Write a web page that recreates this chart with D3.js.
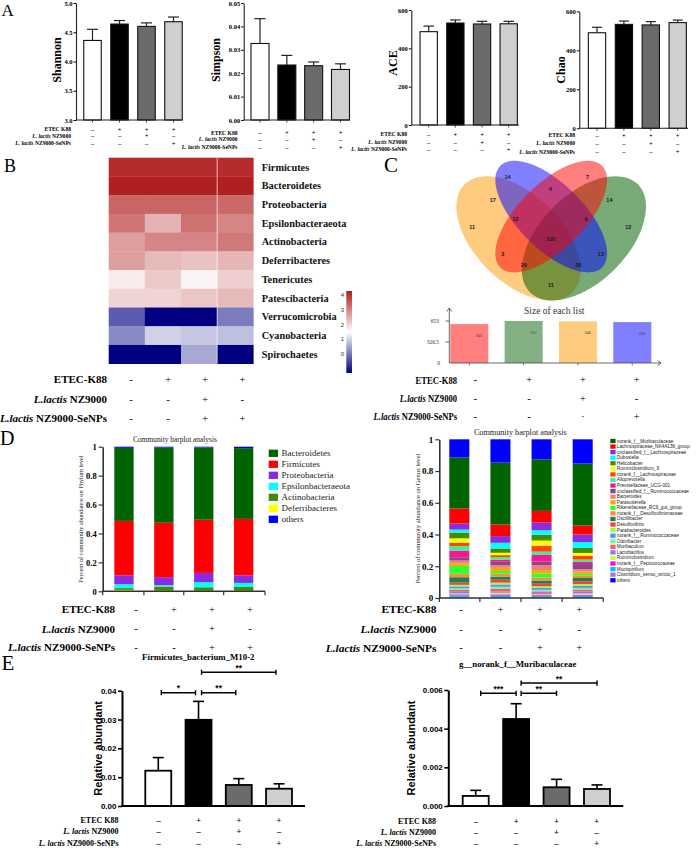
<!DOCTYPE html>
<html><head><meta charset="utf-8">
<script src="https://cdn.jsdelivr.net/npm/d3@7"></script>
<style>body{margin:0;background:#fff}svg{display:block}</style>
</head><body>
<svg id="fig" width="696" height="851"></svg>
<script>
const SERIF="'Liberation Serif','Times New Roman',serif";
const SANS="'Liberation Sans',Arial,sans-serif";

// ================= DATA =================
const groups=["Control","ETEC","ETEC_NZ9000","ETEC_NZ9000_SeNPs"];

// Panel A: alpha diversity (mean, upper end of error bar)
const shannonMean=[4.36,4.64,4.60,4.68];
const shannonUpper=[4.55,4.70,4.66,4.76];
const simpsonMean=[0.0327,0.0235,0.0232,0.0216];
const simpsonUpper=[0.0433,0.0276,0.0248,0.0240];
const aceMean=[487,532,527,528];
const aceUpper=[516,548,541,541];
const chaoMean=[490,533,530,542];
const chaoUpper=[518,550,547,555];
const shannonTicks=[3.0,3.5,4.0,4.5,5.0];
const simpsonTicks=[0,0.01,0.02,0.03,0.04,0.05];
const aceTicks=[0,200,400,600];
const chaoTicks=[0,200,400,600];

// treatment rows
const labelsAE=[["","ETEC K88"],["L. lactis"," NZ9000"],["L. lactis"," NZ9000-SeNPs"]];
const signsAE=[["–","+","+","+"],["–","–","+","–"],["–","–","–","+"]];
const labelsBCD=[["","ETEC-K88"],["L.lactis"," NZ9000"],["L.lactis"," NZ9000-SeNPs"]];
const signsBD=[["-","+","+","+"],["-","-","+","-"],["-","-","+","+"]];
const signsC=[["-","+","+","+"],["-","-","+","-"],["-","-","·","+"]];

// Panel B: heatmap
const phyla=["Firmicutes","Bacteroidetes","Proteobacteria","Epsilonbacteraeota","Actinobacteria","Deferribacteres","Tenericutes","Patescibacteria","Verrucomicrobia","Cyanobacteria","Spirochaetes"];
const heatValues=[
 [4.10,4.10,4.10,4.10],
 [4.25,4.25,4.25,4.25],
 [3.40,3.40,3.40,3.35],
 [3.20,2.45,3.25,3.00],
 [2.70,3.00,3.00,3.15],
 [2.70,2.35,2.25,2.40],
 [1.74,2.15,1.63,2.10],
 [2.03,2.03,2.20,2.35],
 [-0.29,-1.30,-1.30,0.05],
 [0.20,0.99,0.88,0.80],
 [-1.30,-1.30,0.55,-1.30]
];
const colorbarTicks=[0,1,2,3,4];

// Panel C: Venn
const vennCounts=[14,7,4,17,14,11,12,9,12,531,3,13,29,38,11];
const setSizes=[605,653,648,636];
const setTicks=[0,326.5,653];

// Panel D: phylum composition
const phylumNames=["Bacteroidetes","Firmicutes","Proteobacteria","Epsilonbacteraeota","Actinobacteria","Deferribacteres","others"];
const phylumValues=[
 [0.505,0.520,0.500,0.489],
 [0.376,0.376,0.368,0.390],
 [0.062,0.055,0.064,0.053],
 [0.027,0.010,0.035,0.028],
 [0.012,0.028,0.024,0.026],
 [0.010,0.005,0.004,0.004],
 [0.008,0.006,0.005,0.010]
];
const genusNames=["norank_f__Muribaculaceae","Lachnospiraceae_NK4A136_group","unclassified_f__Lachnospiraceae","Dubosiella","Helicobacter","Ruminiclostridium_9","norank_f__Lachnospiraceae","Alloprevotella","Prevotellaceae_UCG-001","unclassified_f__Ruminococcaceae","Bacteroides","Parasutterella","Rikenellaceae_RC9_gut_group","norank_f__Desulfovibrionaceae","Oscillibacter","Desulfovibrio","Parabacteroides","norank_f__Ruminococcaceae","Odoribacter","Muribaculum","Lactobacillus","Ruminiclostridium","norank_f__Peptococcaceae","Mucispirillum","Clostridium_sensu_stricto_1","others"];
const genusValues=[
 [0.321,0.390,0.325,0.390],
 [0.095,0.073,0.074,0.057],
 [0.038,0.042,0.048,0.048],
 [0.019,0.036,0.029,0.036],
 [0.036,0.027,0.036,0.032],
 [0.027,0.015,0.032,0.017],
 [0.021,0.013,0.038,0.025],
 [0.029,0.017,0.021,0.015],
 [0.042,0.012,0.042,0.013],
 [0.021,0.020,0.021,0.032],
 [0.017,0.018,0.032,0.015],
 [0.017,0.020,0.021,0.015],
 [0.050,0.017,0.027,0.012],
 [0.021,0.018,0.018,0.014],
 [0.034,0.020,0.020,0.020],
 [0.014,0.018,0.016,0.018],
 [0.010,0.012,0.010,0.012],
 [0.012,0.014,0.012,0.012],
 [0.010,0.012,0.010,0.010],
 [0.012,0.018,0.010,0.014],
 [0.010,0.008,0.008,0.012],
 [0.006,0.010,0.006,0.008],
 [0.006,0.008,0.006,0.006],
 [0.010,0.010,0.006,0.008],
 [0.007,0.005,0.006,0.006],
 [0.115,0.147,0.126,0.153]
];
const fracTicks=[0,0.2,0.4,0.6,0.8,1];

// Panel E
const firmMean=[0.01225,0.0299,0.0073,0.0060];
const firmUpper=[0.0168,0.0363,0.0095,0.0077];
const firmTicks=[0,0.01,0.02,0.03,0.04];
const firmSig=[{a:0,b:1,lab:"*",v:0.0393},{a:1,b:2,lab:"**",v:0.0393},{a:1,b:3,lab:"**",v:0.0464}];
const muriMean=[0.00052,0.0045,0.00097,0.00088];
const muriUpper=[0.00081,0.00529,0.00138,0.00109];
const muriTicks=[0,0.002,0.004,0.006];
const muriSig=[{a:0,b:1,lab:"***",v:0.00583},{a:1,b:2,lab:"**",v:0.00583},{a:1,b:3,lab:"**",v:0.00636}];

// ================= STYLES =================
const barFills=["#ffffff","#000000","#6b6b6b","#cfcfcf"];
const phylumColors=["#006400","#ff0000","#8a2be2","#00ffff","#458b00","#ffff00","#0000ff"];
const genusColors=["#006400","#ff0000","#8a2be2","#00ffff","#458b00","#ffff00","#ff4500","#3cf0a0","#ff1493","#8b4789","#f08080","#ffa500","#32ff32","#ff8c3c","#1e8050","#ff3c3c","#9aff32","#5a8cff","#60ffb0","#ff5a5a","#8c78ff","#c8ff3c","#ff00ff","#00c0ff","#a078e0","#0000ff"];
const vennColors=["#ff0000","#0a640a","#ff9800","#0000ff"]; // red, green, orange, blue

const svg=d3.select("#fig");

function txt(g,x,y,s,o={}){
  const t=g.append("text").attr("x",x).attr("y",y).text(s)
   .attr("font-family",o.ff||SERIF).attr("font-size",o.fs||10)
   .attr("font-weight",o.fw||"normal").attr("fill",o.fill||"#000")
   .attr("text-anchor",o.anchor||"start");
  if(o.db) t.attr("dominant-baseline",o.db);
  if(o.rot) t.attr("transform",`rotate(${o.rot},${x},${y})`);
  return t;
}

function signRows(c){
  const g=svg.append("g");
  const x=d3.scalePoint().domain(groups).range(c.xr);
  c.labels.forEach((lab,r)=>{
    const t=g.append("text").attr("text-anchor","end").attr("dominant-baseline","central")
      .attr("font-family",SERIF).attr("font-weight","bold").attr("font-size",c.lfs)
      .attr("transform",`translate(${c.lx},${c.ys[r]}) scale(${c.sx||1},1)`);
    if(lab[0]) t.append("tspan").attr("font-style","italic").text(lab[0]);
    t.append("tspan").text(lab[1]);
    c.signs[r].forEach((s,i)=>{
      txt(g,x(groups[i]),c.ys[r],s,{fs:c.sfs,fw:c.sfw||"normal",anchor:"middle",db:"central"});
    });
  });
}

// ---------- Panel A ----------
function alphaChart(c){
  const g=svg.append("g");
  const x=d3.scalePoint().domain(groups).range(c.centers);
  const y=d3.scaleLinear().domain(c.domain).range(c.yr);
  const y0=y(c.domain[0]);
  g.selectAll("rect.bar").data(c.mean).join("rect")
   .attr("x",(d,i)=>x(groups[i])-c.bw/2).attr("width",c.bw)
   .attr("y",d=>y(d)).attr("height",d=>y0-y(d))
   .attr("fill",(d,i)=>barFills[i]).attr("stroke","#111").attr("stroke-width",1.1);
  c.upper.forEach((u,i)=>{
    const cx=x(groups[i])+c.eoff;
    g.append("line").attr("x1",cx).attr("x2",cx).attr("y1",y(c.mean[i])).attr("y2",y(u)).attr("stroke","#222").attr("stroke-width",1.2);
    g.append("line").attr("x1",cx-c.cap/2).attr("x2",cx+c.cap/2).attr("y1",y(u)).attr("y2",y(u)).attr("stroke","#222").attr("stroke-width",1.2);
  });
  const ax=g.append("g").attr("transform",`translate(${c.ax},0)`)
   .call(d3.axisLeft(y).tickValues(c.ticks).tickSize(2.5).tickPadding(1).tickSizeOuter(0).tickFormat(d3.format(c.fmt)));
  ax.select(".domain").attr("stroke","#222").attr("stroke-width",1.1);
  ax.selectAll("text").attr("font-family",SERIF).attr("font-weight","bold").attr("font-size",6.5);
  g.append("line").attr("x1",c.ax).attr("x2",c.xend).attr("y1",y0).attr("y2",y0).attr("stroke","#222").attr("stroke-width",1.1);
  groups.forEach(gr=>g.append("line").attr("x1",x(gr)).attr("x2",x(gr)).attr("y1",y0).attr("y2",y0+2.5).attr("stroke","#222").attr("stroke-width",0.8));
  txt(g,c.lx,c.ly,c.title,{fs:12,fw:"bold",anchor:"middle",db:"central",rot:-90});
}
alphaChart({centers:[92.5,173.5],bw:17.5,domain:[3,5],yr:[120,3],mean:shannonMean,upper:shannonUpper,ticks:shannonTicks,fmt:".1f",ax:76,xend:182,eoff:0,cap:11,lx:57,ly:60,title:"Shannon"});
alphaChart({centers:[260,340.5],bw:18,domain:[0,0.05],yr:[120,3],mean:simpsonMean,upper:simpsonUpper,ticks:simpsonTicks,fmt:".2f",ax:243.7,xend:350,eoff:0,cap:11,lx:216,ly:60,title:"Simpson"});
alphaChart({centers:[428.7,508.7],bw:17.3,domain:[0,600],yr:[125,10],mean:aceMean,upper:aceUpper,ticks:aceTicks,fmt:"d",ax:411.3,xend:519,eoff:0,cap:10.5,lx:392.7,ly:63,title:"ACE"});
alphaChart({centers:[597,677.7],bw:17.3,domain:[0,600],yr:[128.3,11.3],mean:chaoMean,upper:chaoUpper,ticks:chaoTicks,fmt:"d",ax:579.3,xend:688,eoff:0,cap:10,lx:561,ly:70,title:"Chao"});

signRows({labels:labelsAE,signs:signsAE,xr:[92.5,173.5],lx:71,ys:[129,135.7,143],lfs:5.6,sfs:6.5,sfw:"bold"});
signRows({labels:labelsAE,signs:signsAE,xr:[260,340.5],lx:237.5,ys:[132.7,139.3,147],lfs:5.6,sfs:6.5,sfw:"bold"});
signRows({labels:labelsAE,signs:signsAE,xr:[428.7,508.7],lx:407,ys:[134.3,142,149],lfs:5.6,sfs:6.5,sfw:"bold"});
signRows({labels:labelsAE,signs:signsAE,xr:[597,677.7],lx:575,ys:[135.3,143.3,151.7],lfs:5.6,sfs:6.5,sfw:"bold"});

// ---------- Panel letters ----------
[["A",1.5,16,17],["B",4,171.7,18],["C",384,171.7,21],["D",0,445,20],["E",1.5,670,21]].forEach(d=>txt(svg,d[1],d[2],d[0],{fs:d[3]}));

// ---------- Panel B heatmap ----------
(function(){
  const g=svg.append("g");
  const x=d3.scaleBand().domain(groups).range([108.7,253.3]);
  const y=d3.scaleBand().domain(phyla).range([157.7,363.7]);
  const col=d3.scaleLinear().domain([-1.3,1.5,4.3]).range(["#000080","#ffffff","#b01c1c"]).clamp(true);
  phyla.forEach((p,r)=>groups.forEach((gr,i)=>{
    g.append("rect").attr("x",x(gr)).attr("y",y(p)).attr("width",x.bandwidth()+0.3).attr("height",y.bandwidth()+0.3).attr("fill",col(heatValues[r][i]));
  }));
  g.append("line").attr("x1",x(groups[3])).attr("x2",x(groups[3])).attr("y1",157.7).attr("y2",363.7).attr("stroke","#fff").attr("stroke-opacity",0.8).attr("stroke-width",0.8);
  phyla.forEach(p=>txt(g,261.7,y(p)+y.bandwidth()/2,p,{fs:10.3,fw:"bold",db:"central",fill:"#111"}));
  // colorbar
  const cb=d3.scaleLinear().domain([-1.3,4.3]).range([373,291]);
  const grad=svg.append("defs").append("linearGradient").attr("id","cbg").attr("x1",0).attr("x2",0).attr("y1",1).attr("y2",0);
  [-1.3,1.5,4.3].forEach(v=>grad.append("stop").attr("offset",(v+1.3)/5.6).attr("stop-color",col(v)));
  g.append("rect").attr("x",346.3).attr("y",cb(4.3)).attr("width",5.7).attr("height",cb(-1.3)-cb(4.3)).attr("fill","url(#cbg)");
  colorbarTicks.forEach(t=>txt(g,344,cb(t),t,{ff:SANS,fs:6,anchor:"end",db:"central",fill:"#333"}));
})();
signRows({labels:labelsBCD,signs:signsBD,xr:[131,242.3],lx:107,ys:[379.3,399.3,418.3],lfs:11,sfs:11});

// ---------- Panel C Venn ----------
(function(){
  const g=svg.append("g");
  const s=218;
  const vx=d3.scaleLinear().domain([0,1]).range([551.2-s/2,551.2+s/2]);
  const vy=d3.scaleLinear().domain([0,1]).range([160.7+0.826*s,160.7-0.174*s]);
  const ell=[ // layout of a 4-set Venn (unit square), drawing order
    {c:2,cx:0.35,cy:0.47,a:0.35,b:0.20,r:45,o:0.5},
    {c:1,cx:0.65,cy:0.47,a:0.35,b:0.20,r:-45,o:0.55},
    {c:3,cx:0.50,cy:0.57,a:0.33,b:0.15,r:45,o:0.5},
    {c:0,cx:0.50,cy:0.57,a:0.33,b:0.15,r:-45,o:0.5}];
  ell.forEach(e=>{
    g.append("ellipse").attr("cx",vx(e.cx)).attr("cy",vy(e.cy)).attr("rx",e.a*s).attr("ry",e.b*s)
     .attr("transform",`rotate(${e.r},${vx(e.cx)},${vy(e.cy)})`).attr("fill",vennColors[e.c]).attr("fill-opacity",e.o);
  });
  const pos=[[0.300,0.753],[0.667,0.753],[0.496,0.698],[0.232,0.646],[0.767,0.646],[0.137,0.521],[0.335,0.557],[0.660,0.557],[0.854,0.521],[0.500,0.468],[0.278,0.398],[0.728,0.398],[0.374,0.346],[0.624,0.346],[0.499,0.256]];
  vennCounts.forEach((n,i)=>txt(g,vx(pos[i][0]),vy(pos[i][1]),n,{ff:SANS,fs:5.5,fw:"bold",anchor:"middle",db:"central",fill:"#1a1a1a"}));

  // size of each list
  txt(g,554.3,310.7,"Size of each list",{fs:9.5,anchor:"middle",db:"central",fill:"#333"});
  const bx=d3.scaleBand().domain(groups).range([450.3,651.3]).paddingInner(0.3);
  const by=d3.scaleLinear().domain([0,653]).range([363,321]);
  const barC=[0,1,2,3];
  groups.forEach((gr,i)=>{
    g.append("rect").attr("x",bx(gr)).attr("width",bx.bandwidth()).attr("y",by(setSizes[i])).attr("height",by(0)-by(setSizes[i]))
     .attr("fill",vennColors[barC[i]]).attr("fill-opacity",0.5);
    txt(g,bx(gr)+bx.bandwidth()*0.76,by(setSizes[i])+11,setSizes[i],{fs:4,anchor:"middle",db:"central",fill:"#333"});
  });
  const axc="#444";
  g.append("line").attr("x1",449.3).attr("x2",449.3).attr("y1",by(0)).attr("y2",308).attr("stroke",axc).attr("stroke-width",0.8);
  g.append("path").attr("d","M446.8,311.5L449.3,308L451.8,311.5").attr("fill","none").attr("stroke",axc).attr("stroke-width",0.8);
  g.append("line").attr("x1",449.3).attr("x2",661).attr("y1",by(0)).attr("y2",by(0)).attr("stroke",axc).attr("stroke-width",0.8);
  g.append("path").attr("d",`M657.5,${by(0)-2.5}L661,${by(0)}L657.5,${by(0)+2.5}`).attr("fill","none").attr("stroke",axc).attr("stroke-width",0.8);
  setTicks.forEach(t=>{
    if(t>0) g.append("line").attr("x1",445.5).attr("x2",449.3).attr("y1",by(t)).attr("y2",by(t)).attr("stroke",axc).attr("stroke-width",0.8);
    txt(g,t>0?439:440,by(t),t,{fs:5.5,anchor:"end",db:"central",fill:"#333"});
  });
  groups.forEach(gr=>g.append("line").attr("x1",bx(gr)+bx.bandwidth()/2).attr("x2",bx(gr)+bx.bandwidth()/2).attr("y1",by(0)).attr("y2",by(0)+2.5).attr("stroke",axc).attr("stroke-width",0.7));
})();
signRows({labels:labelsBCD,signs:signsC,xr:[475.3,636.7],lx:457,ys:[379.3,397.7,416],lfs:11,sfs:11,sx:0.78});

// ---------- Panel D ----------
function stackChart(c){
  const g=svg.append("g");
  const x=d3.scaleBand().domain(groups).range(c.xr).paddingInner(c.pad);
  const y=d3.scaleLinear().domain([0,1]).range(c.yr);
  const n=c.names.length;
  const keys=c.names.slice(0,n-1).reverse().concat([c.names[n-1]]);
  const rows=groups.map((gr,i)=>{const o={group:gr};c.names.forEach((nm,k)=>o[nm]=c.values[k][i]);return o;});
  const st=d3.stack().keys(keys)(rows);
  st.forEach(layer=>{
    const k=c.names.indexOf(layer.key);
    g.selectAll(null).data(layer).join("rect")
     .attr("x",d=>x(d.data.group)).attr("width",x.bandwidth())
     .attr("y",d=>y(d[1])).attr("height",d=>Math.max(0,y(d[0])-y(d[1])))
     .attr("fill",c.colors[k]);
  });
  const axc="#333";
  const ax=g.append("g").attr("transform",`translate(${c.ax},0)`)
   .call(d3.axisLeft(y).tickValues(fracTicks).tickSize(4).tickPadding(2).tickSizeOuter(0).tickFormat(d=>d===0||d===1?d:d3.format(".1f")(d)));
  ax.select(".domain").attr("stroke",axc).attr("stroke-width",1.6);
  ax.selectAll(".tick line").attr("stroke",axc).attr("stroke-width",1.2);
  ax.selectAll("text").attr("font-family",SERIF).attr("font-weight","bold").attr("font-size",c.tfs);
  g.append("line").attr("x1",c.ax).attr("x2",c.xend).attr("y1",y(0)).attr("y2",y(0)).attr("stroke",axc).attr("stroke-width",1.6);
  const tx=[c.ax];
  for(let i=0;i<3;i++) tx.push((x(groups[i])+x.bandwidth()+x(groups[i+1]))/2);
  tx.push(c.xend);
  tx.forEach(t=>g.append("line").attr("x1",t).attr("x2",t).attr("y1",y(0)).attr("y2",y(0)+4).attr("stroke",axc).attr("stroke-width",1.2));
  txt(g,c.titleX,c.titleY,"Community barplot analysis",{fs:c.titleFs,anchor:"middle",db:"central",fill:"#222"});
  txt(g,c.ylx,(c.yr[0]+c.yr[1])/2,c.ylab,{fs:c.ylfs,anchor:"middle",db:"central",rot:-90,fill:"#222"});
  c.names.forEach((nm,k)=>{
    const ly=c.legY+k*c.legStep;
    g.append("rect").attr("x",c.legX).attr("y",ly-c.legH/2).attr("width",c.legW).attr("height",c.legH).attr("fill",c.colors[k]);
    txt(g,c.legX+c.legW+c.legGap,ly,nm,{ff:c.legFf,fs:c.legFs,db:"central",fill:"#222"});
  });
}
stackChart({names:phylumNames,values:phylumValues,colors:phylumColors,xr:[114.3,253.3],pad:0.515,yr:[591.3,446.7],ax:102.7,xend:265,tfs:8.5,
  titleX:175,titleY:439,titleFs:7.4,ylx:80,ylab:"Percent of community abundance on Phylum level",ylfs:6.3,
  legX:268.7,legY:453.3,legStep:11,legW:9.3,legH:7.3,legGap:3.5,legFs:9,legFf:SERIF});
stackChart({names:genusNames,values:genusValues,colors:genusColors,xr:[449.3,592.7],pad:0.513,yr:[598,439.3],ax:439.3,xend:603.3,tfs:9,
  titleX:520.3,titleY:432.3,titleFs:8.2,ylx:417.7,ylab:"Percent of community abundance on Genus level",ylfs:6.6,
  legX:610.3,legY:441,legStep:5.57,legW:5.3,legH:4.3,legGap:1.2,legFs:4.7,legFf:SANS});
signRows({labels:labelsBCD,signs:signsBD,xr:[136,250],lx:115,ys:[609,628.5,647.3],lfs:11,sfs:10.5});
signRows({labels:labelsBCD,signs:signsBD,xr:[461,579.3],lx:436.5,ys:[609.3,629,647.8],lfs:11.4,sfs:10.5});

// ---------- Panel E ----------
function sigChart(c){
  const g=svg.append("g");
  const x=d3.scaleBand().domain(groups).range(c.xr).paddingInner(c.pad);
  const y=d3.scaleLinear().domain([0,c.ymax]).range(c.yr);
  const cx=i=>x(groups[i])+x.bandwidth()/2;
  c.upper.forEach((u,i)=>{
    g.append("line").attr("x1",cx(i)).attr("x2",cx(i)).attr("y1",y(c.mean[i])).attr("y2",y(u)).attr("stroke","#000").attr("stroke-width",1.6);
    g.append("line").attr("x1",cx(i)-5.5).attr("x2",cx(i)+5.5).attr("y1",y(u)).attr("y2",y(u)).attr("stroke","#000").attr("stroke-width",1.6);
  });
  g.selectAll(null).data(c.mean).join("rect")
   .attr("x",(d,i)=>x(groups[i])).attr("width",x.bandwidth())
   .attr("y",d=>y(d)).attr("height",d=>y(0)-y(d))
   .attr("fill",(d,i)=>barFills[i]).attr("stroke","#000").attr("stroke-width",1.8);
  const ax=g.append("g").attr("transform",`translate(${c.ax},0)`)
   .call(d3.axisLeft(y).tickValues(c.ticks).tickSize(4).tickPadding(1.5).tickSizeOuter(0).tickFormat(d3.format(c.fmt)));
  ax.select(".domain").attr("stroke","#000").attr("stroke-width",2);
  ax.selectAll(".tick line").attr("stroke","#000").attr("stroke-width",1.6);
  ax.selectAll("text").attr("font-family",SANS).attr("font-weight","bold").attr("font-size",8);
  g.append("line").attr("x1",c.ax-1).attr("x2",c.xend).attr("y1",y(0)).attr("y2",y(0)).attr("stroke","#000").attr("stroke-width",2);
  c.sig.forEach(s=>{
    const x1=cx(s.a)+c.ins[0], x2=cx(s.b)+c.ins[1], yy=y(s.v);
    g.append("line").attr("x1",x1).attr("x2",x2).attr("y1",yy).attr("y2",yy).attr("stroke","#000").attr("stroke-width",1.6);
    [x1,x2].forEach(xx=>g.append("line").attr("x1",xx).attr("x2",xx).attr("y1",yy-2.6).attr("y2",yy+2.6).attr("stroke","#000").attr("stroke-width",1.4));
    txt(g,(x1+x2)/2,yy-1.5,s.lab,{ff:SANS,fs:8.5,fw:"bold",anchor:"middle"});
  });
  txt(g,c.tx,c.ty,c.title,{fs:8.8,fw:"bold",anchor:"middle",db:"central"});
  txt(g,c.ylx,(y(0)+y(c.ymax))/2,"Relative abundant",{ff:SANS,fs:11,fw:"bold",anchor:"middle",db:"central",rot:-90});
}
sigChart({xr:[145.3,292],pad:0.355,ymax:0.04,yr:[806,690.7],mean:firmMean,upper:firmUpper,ticks:firmTicks,fmt:".2f",ax:122,xend:305,
  sig:firmSig,ins:[3,-3],tx:198.3,ty:656.5,title:"Firmicutes_bacterium_M10-2",ylx:98.3});
sigChart({xr:[462.7,610],pad:0.357,ymax:0.006,yr:[806,690],mean:muriMean,upper:muriUpper,ticks:muriTicks,fmt:".3f",ax:448.3,xend:623.3,
  sig:muriSig,ins:[5,0],tx:517.7,ty:664,title:"g__norank_f__Muribaculaceae",ylx:411});
signRows({labels:labelsAE,signs:signsAE,xr:[158.5,279],lx:118.5,ys:[820,830.7,842.5],lfs:8,sfs:8.5,sfw:"bold"});
signRows({labels:labelsAE,signs:signsAE,xr:[476,596.7],lx:436,ys:[821,831.7,843],lfs:8,sfs:8.5,sfw:"bold"});
</script>
</body></html>
